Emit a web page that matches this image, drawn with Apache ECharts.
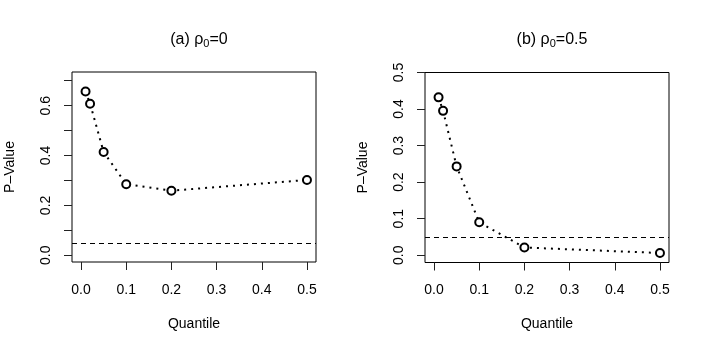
<!DOCTYPE html>
<html>
<head>
<meta charset="utf-8">
<script src="https://cdn.jsdelivr.net/npm/echarts@6/dist/echarts.min.js"></script>
<style>
html,body{margin:0;padding:0;background:#fff}
#divChart{width:706px;height:353px}
</style>
</head>
<body>
<div id="divChart"></div>
<script>
// data
var quantiles = [0.01, 0.02, 0.05, 0.1, 0.2, 0.5]
var pval_a = [0.657, 0.608, 0.414, 0.285, 0.259, 0.302]   // (a) rho0=0
var pval_b = [0.432, 0.395, 0.243, 0.090, 0.021, 0.006]   // (b) rho0=0.5
var cutoff = 0.05
var x_ticks = [0, 0.1, 0.2, 0.3, 0.4, 0.5]
var y_ticks_a = [0, 0.1, 0.2, 0.3, 0.4, 0.5, 0.6, 0.7]
var y_labels_a = [0, 0.2, 0.4, 0.6]
var y_ticks_b = [0, 0.1, 0.2, 0.3, 0.4, 0.5]

var FONT = "'Liberation Sans', Arial, Helvetica, sans-serif"
var zip = (xs, ys) => xs.map((x, i) => [x, ys[i]])
var f1 = v => (+v).toFixed(1)

var mk_x = (idx) => ({
  type: 'value', gridIndex: idx, min: -0.02, max: 0.52,
  name: 'Quantile', nameLocation: 'middle', nameGap: 55,
  nameTextStyle: {color: '#000', fontSize: 14, fontFamily: FONT, verticalAlign: 'top'},
  axisLine: {show: false, onZero: false},
  splitLine: {show: false},
  axisTick: {show: true, length: 8, customValues: x_ticks, lineStyle: {color: '#222'}},
  axisLabel: {customValues: x_ticks, formatter: f1, margin: 21, color: '#000', fontSize: 14, fontFamily: FONT}
})
var mk_y = (idx, mn, mx, ticks, labels) => ({
  type: 'value', gridIndex: idx, min: mn, max: mx,
  name: 'P\u2013Value', nameLocation: 'middle', nameGap: 55,
  nameTextStyle: {color: '#000', fontSize: 14, fontFamily: FONT},
  axisLine: {show: false, onZero: false},
  splitLine: {show: false},
  axisTick: {show: true, length: 8, customValues: ticks, lineStyle: {color: '#222'}},
  axisLabel: {customValues: labels, formatter: f1, rotate: 90, margin: 19, color: '#000', fontSize: 14, fontFamily: FONT}
})
var mk_series = (idx, data) => ({
  type: 'line', xAxisIndex: idx, yAxisIndex: idx, data: data,
  symbol: 'circle', symbolSize: 8,
  itemStyle: {color: '#fff', borderColor: '#000', borderWidth: 2},
  lineStyle: {color: '#000', width: 2, type: [2, 5]},
  markLine: {
    silent: true, symbol: 'none', label: {show: false},
    lineStyle: {color: '#000', width: 1, type: [5, 4]},
    data: [{yAxis: cutoff}]
  }
})
var mk_title = (cx, txt) => ({
  text: txt, left: cx, top: 26, textAlign: 'center',
  textStyle: {
    color: '#000', fontSize: 16, fontWeight: 'normal', fontFamily: FONT,
    rich: {sub: {fontSize: 11, fontFamily: FONT, color: '#000', padding: [7, 0, 0, 0]}}
  }
})

var option = {
  animation: false,
  backgroundColor: '#fff',
  title: [mk_title(194, '(a) \u03c1{sub|0}=0'), mk_title(547, '(b) \u03c1{sub|0}=0.5')],
  grid: [
    {left: 72, top: 72, width: 244, height: 190, show: true, borderColor: '#000', borderWidth: 1, backgroundColor: 'transparent'},
    {left: 425, top: 72.5, width: 244, height: 190, show: true, borderColor: '#000', borderWidth: 1, backgroundColor: 'transparent'}
  ],
  xAxis: [mk_x(0), mk_x(1)],
  yAxis: [
    mk_y(0, -0.027, 0.735, y_ticks_a, y_labels_a),
    mk_y(1, -0.02, 0.5, y_ticks_b, y_ticks_b)
  ],
  series: [mk_series(0, zip(quantiles, pval_a)), mk_series(1, zip(quantiles, pval_b))]
}

var chart = echarts.init(document.getElementById('divChart'))
chart.setOption(option)
</script>
</body>
</html>
